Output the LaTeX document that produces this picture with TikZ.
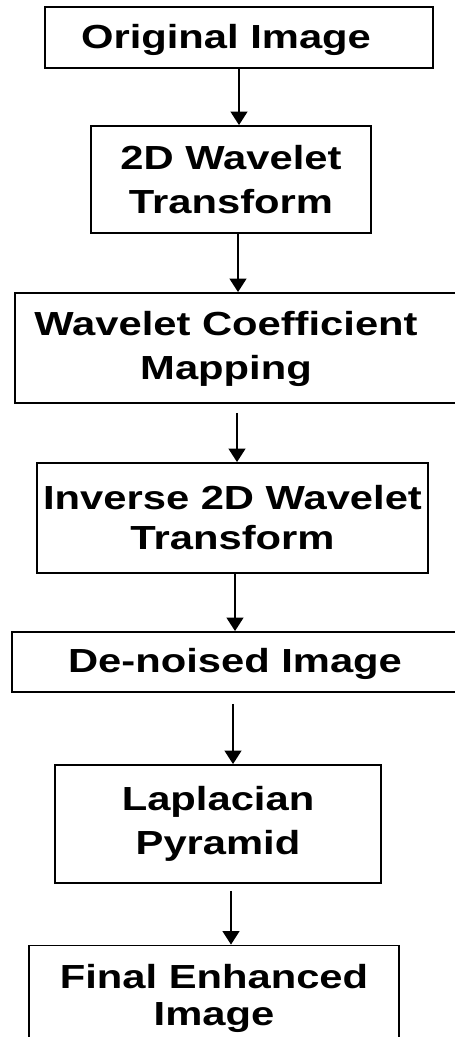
\documentclass[tikz,border=0pt]{standalone}
\usepackage{fontspec}
\newfontfamily\boxfont{Liberation Sans}[FakeStretch=1.25]
\usetikzlibrary{arrows.meta, positioning, calc}
\tikzset{
    stepbox/.style={rectangle, draw=black, line width=1.1pt, align=center, inner sep=0pt, font=\boxfont\bfseries\fontsize{19}{25}\selectfont},
    steptext/.style={align=center, inner sep=0pt, font=\boxfont\bfseries\fontsize{19}{25}\selectfont},
    arrow/.style={line width=0.8pt, -{Triangle[width=0.34cm, length=0.27cm]}}
}
\begin{document}
\begin{tikzpicture}[x=0.02cm, y=-0.02cm]
    \useasboundingbox (0,0) rectangle (454,1037);

    \node (orig) [stepbox, minimum width=7.76cm, minimum height=1.22cm] at (239,37.5) {};
    \node (origtext) [steptext] at (226,40) {Original Image};
    \node (dwt) [stepbox, minimum width=5.6cm, minimum height=2.14cm] at (231,179.5) {2D Wavelet\\Transform};
    \node (map) [stepbox, minimum width=9cm, minimum height=2.2cm] at (240,348) {};
    \node (maptext) [steptext] at (226,349) {Wavelet Coefficient\\Mapping};
    \node (idwt) [stepbox, minimum width=7.82cm, minimum height=2.2cm] at (232.5,518) {Inverse 2D Wavelet\\[-0.08cm]Transform};
    \node (denoised) [stepbox, minimum width=9.06cm, minimum height=1.2cm] at (238.5,662) {};
    \node (denoisedtext) [steptext] at (235,664) {De-noised Image};
    \node (laplace) [stepbox, minimum width=6.52cm, minimum height=2.36cm] at (218,824) {Laplacian\\Pyramid};
    \node (final) [stepbox, minimum width=7.4cm, minimum height=2.1cm] at (214,998) {Final Enhanced\\[-0.14cm]Image};

    \draw [arrow] (orig.south) -- (orig.south |- dwt.north);
    \draw [arrow] ([xshift=0.14cm]dwt.south) -- ([xshift=0.14cm]dwt.south |- map.north);
    \draw [arrow, shorten <=0.18cm] ([xshift=-0.06cm]map.south) -- ([xshift=-0.06cm]map.south |- idwt.north);
    \draw [arrow] ([xshift=0.05cm]idwt.south) -- ([xshift=0.05cm]idwt.south |- denoised.north);
    \draw [arrow, shorten <=0.22cm] ([xshift=-0.11cm]denoised.south) -- ([xshift=-0.11cm]denoised.south |- laplace.north);
    \draw [arrow, shorten <=0.14cm] ([xshift=0.26cm]laplace.south) -- ([xshift=0.26cm]laplace.south |- final.north);
\end{tikzpicture}
\end{document}
